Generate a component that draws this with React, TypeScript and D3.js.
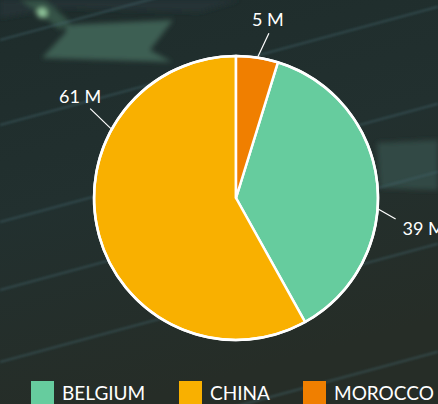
import React from "react";
import * as d3 from "d3";

const categories = ["BELGIUM", "CHINA", "MOROCCO"];
const values = [39, 61, 5];
const valueLabels = ["39 M", "61 M", "5 M"];
const colors = ["#66CC9E", "#F9B000", "#F07F00"];

// layout only
const W = 438, H = 404;
const CX = 236, CY = 198, R = 142;
// label leader angles (degrees from 12 o'clock, clockwise) and text placement
const labelLayout = [
  { angle: 94.5, endAngle: 97.5, endR: 161, dx: 7, dy: 16, anchor: "start" },
  { angle: 299, endAngle: 301.5, endR: 171, dx: -10, dy: -6, anchor: "middle" },
  { angle: 8.8, endAngle: 11.3, endR: 168, dx: -1, dy: -7, anchor: "middle" },
];

export default function App() {
  const items = categories.map((c, i) => ({ c, v: values[i], color: colors[i], label: valueLabels[i], i }));
  const pie = d3
    .pie<any>()
    .value((d) => d.v)
    .sort((a, b) => a.v - b.v);
  const arcs = pie(items);
  const arc = d3.arc<any>().innerRadius(0).outerRadius(R);
  const rad = (deg: number) => (deg * Math.PI) / 180;
  const pt = (deg: number, r: number) => [CX + r * Math.sin(rad(deg)), CY - r * Math.cos(rad(deg))];

  const legendX = d3.scaleOrdinal<string, number>().domain(categories).range([31, 179, 303]);

  const streakY0 = [40, 125, 222, 290, 362, 470];
  const slope = -0.27;

  return (
    <svg
      width={W}
      height={H}
      style={{ position: "fixed", left: 0, top: 0, display: "block" }}
      fontFamily="Lato, 'Noto Sans', sans-serif"
    >
      <defs>
        <linearGradient id="bg" x1="0" y1="0" x2="0.3" y2="1">
          <stop offset="0" stopColor="#1e2c2b" />
          <stop offset="0.5" stopColor="#22302f" />
          <stop offset="1" stopColor="#262d27" />
        </linearGradient>
        <filter id="blur" x="-20%" y="-20%" width="140%" height="140%">
          <feGaussianBlur stdDeviation="2.5" />
        </filter>
        <filter id="blur2" x="-20%" y="-20%" width="140%" height="140%">
          <feGaussianBlur stdDeviation="1.2" />
        </filter>
      </defs>
      <rect x={0} y={0} width={W} height={H} fill="url(#bg)" />
      <g filter="url(#blur)">
        <polygon points="0,0 240,0 200,12 60,8 0,18" fill="#24353a" opacity={0.8} />
        <polygon points="20,0 45,0 70,22 60,30 40,14" fill="#355247" />
        <polygon points="65,25 173,20 150,50 172,62 42,58 66,32" fill="#3e5e53" />
        <polygon points="377,143 438,140 438,190 380,188" fill="#334a45" />
        <circle cx={42} cy={13} r={5} fill="#8fc49a" />
      </g>
      <g filter="url(#blur2)">
        {streakY0.map((y0, i) => (
          <line key={i} x1={0} y1={y0} x2={W} y2={y0 + slope * W} stroke="#3f6269" strokeOpacity={0.5} strokeWidth={2.2} />
        ))}
      </g>
      <g transform={`translate(${CX},${CY})`}>
        {arcs.map((a) => (
          <path key={a.data.c} d={arc(a) as string} fill={a.data.color} stroke="#ffffff" strokeWidth={2.5} strokeLinejoin="round" />
        ))}
        <circle r={R} fill="none" stroke="#ffffff" strokeWidth={2.5} />
      </g>
      {items.map((d) => {
        const L = labelLayout[d.i];
        const [x1, y1] = pt(L.angle, R + 1);
        const [x2, y2] = pt(L.endAngle, L.endR);
        return (
          <g key={d.c}>
            <line x1={x1} y1={y1} x2={x2} y2={y2} stroke="#ffffff" strokeWidth={1.2} />
            <text x={x2 + L.dx} y={y2 + L.dy} textAnchor={L.anchor as any} fill="#ffffff" fontSize={18}>
              {d.label}
            </text>
          </g>
        );
      })}
      {items.map((d) => (
        <g key={"lg" + d.c} transform={`translate(${legendX(d.c)},381)`}>
          <rect width={23} height={26} fill={d.color} />
          <text x={31} y={19} fill="#ffffff" fontSize={19}>
            {d.c}
          </text>
        </g>
      ))}
    </svg>
  );
}
